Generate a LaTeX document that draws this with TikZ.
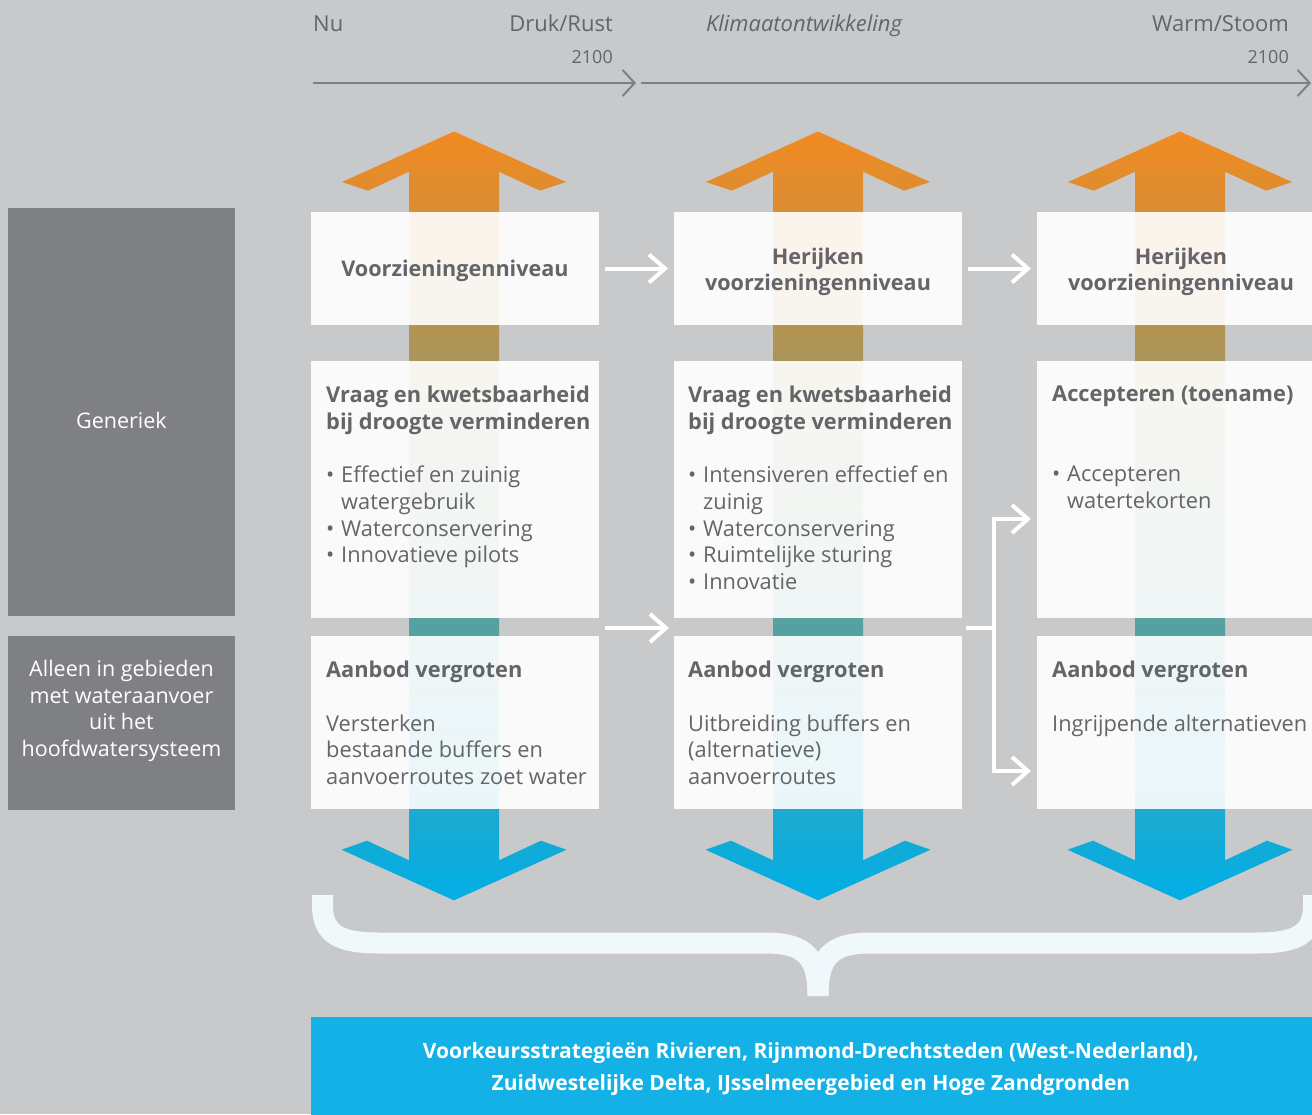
\documentclass[tikz,border=0pt]{standalone}
\usepackage{fontspec}
\setmainfont{Open Sans}
\usetikzlibrary{arrows.meta}

\definecolor{bgGray}{HTML}{C8C9CB}
\definecolor{sideGray}{HTML}{7F8083}
\definecolor{txtGray}{HTML}{646568}
\definecolor{lineGray}{HTML}{7E7F82}
\definecolor{arrOrange}{HTML}{F28A20}
\definecolor{arrBlue}{HTML}{00AEE6}
\definecolor{braceWhite}{HTML}{F0F8FC}
\definecolor{footBlue}{HTML}{14B1E7}

\newcommand{\bul}{\makebox[15pt][l]{•}}
\newcommand{\ind}{\hspace*{15pt}}

\tikzset{
  box/.style={fill=white, fill opacity=0.91, minimum width=288pt, minimum height=#1, inner sep=0pt, outer sep=0pt},
  sidebox/.style={fill=sideGray, minimum width=227pt, minimum height=#1, inner sep=0pt, outer sep=0pt},
  sidetxt/.style={text=white, align=center, inner sep=0pt, font=\fontsize{21.5}{26.7}\selectfont},
  txt/.style={text=txtGray, font=\fontsize{21.8}{26.7}\selectfont, inner sep=0pt, align=left, anchor=north west},
  head/.style={text=txtGray, font=\fontsize{21.6}{26.7}\selectfont\bfseries, inner sep=0pt, align=center},
  lbl/.style={text=txtGray, font=\fontsize{22}{24}\selectfont, inner sep=0pt},
  yr/.style={text=txtGray, font=\fontsize{18}{20}\selectfont, inner sep=0pt, anchor=base east},
  timeline/.style={lineGray, line width=2pt, -{Straight Barb[length=12pt, width=26pt, line width=2pt]}},
  flow/.style={white, line width=4pt, -{Straight Barb[length=16pt, width=28pt, line width=4pt]}},
  flowline/.style={white, line width=4pt},
}

\begin{document}
\begin{tikzpicture}[x=1pt,y=-1pt]
\useasboundingbox (0,0) rectangle (1312,1114);
\fill[bgGray] (0,0) rectangle (1312,1114);

\coordinate (tl0) at (313,83);
\coordinate (tl1) at (636,83);
\coordinate (tl2) at (641,83);
\coordinate (tl3) at (1311,83);
\draw[timeline] (tl0) -- (tl1);
\draw[timeline] (tl2) -- (tl3);
\node[lbl, anchor=base west] (nu) at (313,31) {Nu};
\node[lbl, anchor=base east] (druk) at (613,31) {Druk/Rust};
\node[lbl, anchor=base] (klim) at (804,31) {\itshape Klimaatontwikkeling};
\node[lbl, anchor=base east] (warm) at (1289,31) {Warm/Stoom};
\node[yr] (yr1) at (613,63) {2100};
\node[yr] (yr2) at (1289,63) {2100};

\shade[top color=arrOrange, bottom color=arrBlue, shift={(454,0)}]
  (0,131.5) -- (112,182) -- (86,190.7) -- (45,171.7) -- (45,860.3) -- (87,840.7) -- (112.5,849.7) -- (0,900.3)
  -- (-112.5,849.7) -- (-87,840.7) -- (-45,860.3) -- (-45,171.7) -- (-86,190.7) -- (-112,182) -- cycle;
\shade[top color=arrOrange, bottom color=arrBlue, shift={(818,0)}]
  (0,131.5) -- (112,182) -- (86,190.7) -- (45,171.7) -- (45,860.3) -- (87,840.7) -- (112.5,849.7) -- (0,900.3)
  -- (-112.5,849.7) -- (-87,840.7) -- (-45,860.3) -- (-45,171.7) -- (-86,190.7) -- (-112,182) -- cycle;
\shade[top color=arrOrange, bottom color=arrBlue, shift={(1180,0)}]
  (0,131.5) -- (112,182) -- (86,190.7) -- (45,171.7) -- (45,860.3) -- (87,840.7) -- (112.5,849.7) -- (0,900.3)
  -- (-112.5,849.7) -- (-87,840.7) -- (-45,860.3) -- (-45,171.7) -- (-86,190.7) -- (-112,182) -- cycle;

\node[sidebox=408pt] (gen) at (121.5,412) {};
\node[sidetxt] (genTxt) at (121.5,420) {Generiek};
\node[sidebox=174pt] (alleen) at (121.5,723) {};
\node[sidetxt] (alleenTxt) at (121.5,711) {Alleen in gebieden\\met wateraanvoer\\uit het\\hoofdwatersysteem};

\node[box=113pt] (r1c1) at (455,268.5) {};
\node[box=113pt] (r1c2) at (818,268.5) {};
\node[box=113pt] (r1c3) at (1181,268.5) {};
\node[box=257pt] (r2c1) at (455,489.5) {};
\node[box=257pt] (r2c2) at (818,489.5) {};
\node[box=257pt] (r2c3) at (1181,489.5) {};
\node[box=173pt] (r3c1) at (455,722.5) {};
\node[box=173pt] (r3c2) at (818,722.5) {};
\node[box=173pt] (r3c3) at (1181,722.5) {};

\node[head] (t11) at (455,271) {Voorzieningenniveau};
\node[head] (t12) at (818,272) {Herijken\\voorzieningenniveau};
\node[head] (t13) at (1181,272) {Herijken\\voorzieningenniveau};

\node[txt] (t21) at (326,386) {\textbf{Vraag en kwetsbaarheid}\\\textbf{bij droogte verminderen}\\[26.7pt]
  \bul Effectief en zuinig\\\ind watergebruik\\\bul Waterconservering\\\bul Innovatieve pilots};
\node[txt] (t22) at (688,386) {\textbf{Vraag en kwetsbaarheid}\\\textbf{bij droogte verminderen}\\[26.7pt]
  \bul Intensiveren effectief en\\\ind zuinig\\\bul Waterconservering\\\bul Ruimtelijke sturing\\\bul Innovatie};
\node[txt] (t23) at (1052,386) {\textbf{Accepteren (toename)}\\[53.4pt]
  \bul Accepteren\\\ind watertekorten};

\node[txt] (t31) at (326,661) {\textbf{Aanbod vergroten}\\[26.7pt]
  Versterken\\bestaande buffers en\\aanvoerroutes zoet water};
\node[txt] (t32) at (688,661) {\textbf{Aanbod vergroten}\\[26.7pt]
  Uitbreiding buffers en\\(alternatieve)\\aanvoerroutes};
\node[txt] (t33) at (1052,661) {\textbf{Aanbod vergroten}\\[26.7pt]
  Ingrijpende alternatieven};

\draw[flow, shorten <=6pt, shorten >=6pt] (r1c1) -- (r1c2);
\draw[flow, shorten <=6pt, shorten >=6pt] (r1c2) -- (r1c3);
\coordinate (ga) at (605,628);
\coordinate (gb) at (669,628);
\draw[flow] (ga) -- (gb);
\coordinate (sa) at (966,628);
\coordinate (sb) at (994,628);
\coordinate (su) at (1031,519);
\coordinate (sd) at (1031,771);
\draw[flowline] (sa) -- (sb);
\draw[flow] (sb) |- (su);
\draw[flow] (sb) |- (sd);

\draw[braceWhite, line width=21pt] (322.5,895) -- (322.5,905) .. controls (322.5,935) and (340,943) .. (380,943)
  -- (766,943) .. controls (806,943) and (818,958) .. (818,996);
\draw[braceWhite, line width=21pt] (1313.5,895) -- (1313.5,905) .. controls (1313.5,935) and (1296,943) .. (1256,943)
  -- (870,943) .. controls (830,943) and (818,958) .. (818,996);

\node[fill=footBlue, minimum width=1010pt, minimum height=100pt, inner sep=0pt] (foot) at (816,1067) {};
\node[text=white, font=\fontsize{21}{32}\selectfont\bfseries, align=center, inner sep=0pt] (footTxt) at (811,1069)
  {Voorkeursstrategieën Rivieren, Rijnmond-Drechtsteden (West-Nederland),\\Zuidwestelijke Delta, IJsselmeergebied en Hoge Zandgronden};
\end{tikzpicture}
\end{document}
